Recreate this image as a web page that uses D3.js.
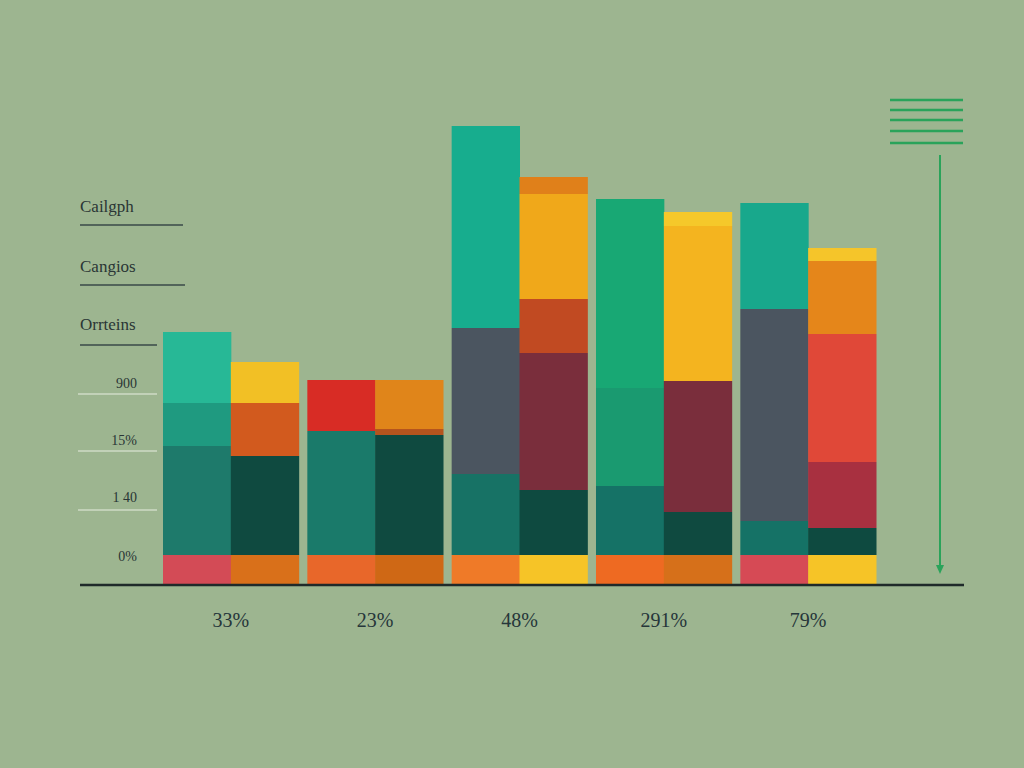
<!DOCTYPE html>
<html><head><meta charset="utf-8">
<script src="https://cdn.jsdelivr.net/npm/d3@7"></script>
<style>body{margin:0;background:#9db590}</style></head>
<body><svg id="c" width="1024" height="768"></svg>
<script>
const groups = ['33%', '23%', '48%', '291%', '79%'];
const sideLabels = ['Cailgph', 'Cangios', 'Orrteins'];
const tickLabels = ['900', '15%', '1 40', '0%'];
// stacked segments bottom-up, [value, colour]
const barsA = [
  [[5.8,'#d34b56'],[21.8,'#1e7a6b'],[8.6,'#1f9a80'],[14.2,'#27b896']],
  [[5.8,'#e8672a'],[24.8,'#1a7a6a'],[10.2,'#d82c25']],
  [[5.8,'#ef7a28'],[16.2,'#177265'],[29.2,'#4b5560'],[40.4,'#17ad8e']],
  [[5.8,'#ee6a22'],[13.8,'#157266'],[19.6,'#1a9a70'],[37.8,'#18a874']],
  [[5.8,'#d64a55'],[6.8,'#157266'],[42.4,'#4b5560'],[21.2,'#18a88c']]
];
const barsB = [
  [[5.8,'#d9701a'],[19.8,'#0f4a40'],[10.6,'#d25a1e'],[8.2,'#f2c025']],
  [[5.8,'#cf6815'],[24,'#0f4a40'],[1.2,'#b5541e'],[9.8,'#e0851a']],
  [[5.8,'#f6c427'],[13,'#0e4a40'],[27.4,'#7a2e3c'],[10.8,'#c14a22'],[21,'#f0a81a'],[3.4,'#e0801a']],
  [[5.8,'#d6701a'],[8.6,'#0f4a40'],[26.2,'#7a2e3c'],[31,'#f4b41f'],[2.8,'#f5c82a']],
  [[5.8,'#f6c427'],[5.4,'#0e4a40'],[13.2,'#a83040'],[25.6,'#e04838'],[14.6,'#e5861a'],[2.6,'#f5c52a']]
];

const svg = d3.select('#c');
const y = d3.scaleLinear().domain([0, 100]).range([584, 84]);
const x = d3.scaleBand().domain(groups).range([163, 876]).paddingInner(0.06).paddingOuter(0);
const xi = d3.scaleBand().domain([0, 1]).range([0, x.bandwidth()]);

groups.forEach((g, gi) => {
  [barsA[gi], barsB[gi]].forEach((segs, bi) => {
    let acc = 0;
    segs.forEach(([v, col]) => {
      svg.append('rect')
        .attr('x', x(g) + xi(bi)).attr('width', xi.bandwidth() + 0.5)
        .attr('y', y(acc + v)).attr('height', y(acc) - y(acc + v))
        .attr('fill', col);
      acc += v;
    });
  });
  svg.append('text').attr('x', x(g) + x.bandwidth() / 2).attr('y', 627)
    .attr('text-anchor', 'middle').attr('font-family', 'Liberation Serif')
    .attr('font-size', 20).attr('fill', '#26363a').text(g);
});

// baseline
svg.append('line').attr('x1', 80).attr('x2', 964).attr('y1', 585).attr('y2', 585)
  .attr('stroke', '#1f2a2a').attr('stroke-width', 2.5);

// side labels
const sideY = [212, 272, 330], sideLine = [[225, 183], [285, 185], [345, 157]];
sideLabels.forEach((t, i) => {
  svg.append('text').attr('x', 80).attr('y', sideY[i]).attr('font-family', 'Liberation Serif')
    .attr('font-size', 17).attr('fill', '#2a3535').text(t);
  svg.append('line').attr('x1', 80).attr('x2', sideLine[i][1]).attr('y1', sideLine[i][0]).attr('y2', sideLine[i][0])
    .attr('stroke', '#3a4a48').attr('stroke-width', 1.5);
});
const tickY = [388, 445, 502, 561], tickLine = [394, 451, 510];
tickLabels.forEach((t, i) => {
  svg.append('text').attr('x', 137).attr('y', tickY[i]).attr('text-anchor', 'end')
    .attr('font-family', 'Liberation Serif').attr('font-size', 14).attr('fill', '#2a3535').text(t);
  if (i < 3) svg.append('line').attr('x1', 78).attr('x2', 157).attr('y1', tickLine[i]).attr('y2', tickLine[i])
    .attr('stroke', '#e8eee0').attr('stroke-width', 1.2);
});

// right legend lines + arrow
[100, 110, 120, 131, 143].forEach(yy => {
  svg.append('line').attr('x1', 890).attr('x2', 963).attr('y1', yy).attr('y2', yy)
    .attr('stroke', '#2aa35a').attr('stroke-width', 2.5);
});
svg.append('line').attr('x1', 940).attr('x2', 940).attr('y1', 155).attr('y2', 568)
  .attr('stroke', '#2aa35a').attr('stroke-width', 2);
svg.append('path').attr('d', 'M936,565 L944,565 L940,574 Z').attr('fill', '#2aa35a');
</script></body></html>
